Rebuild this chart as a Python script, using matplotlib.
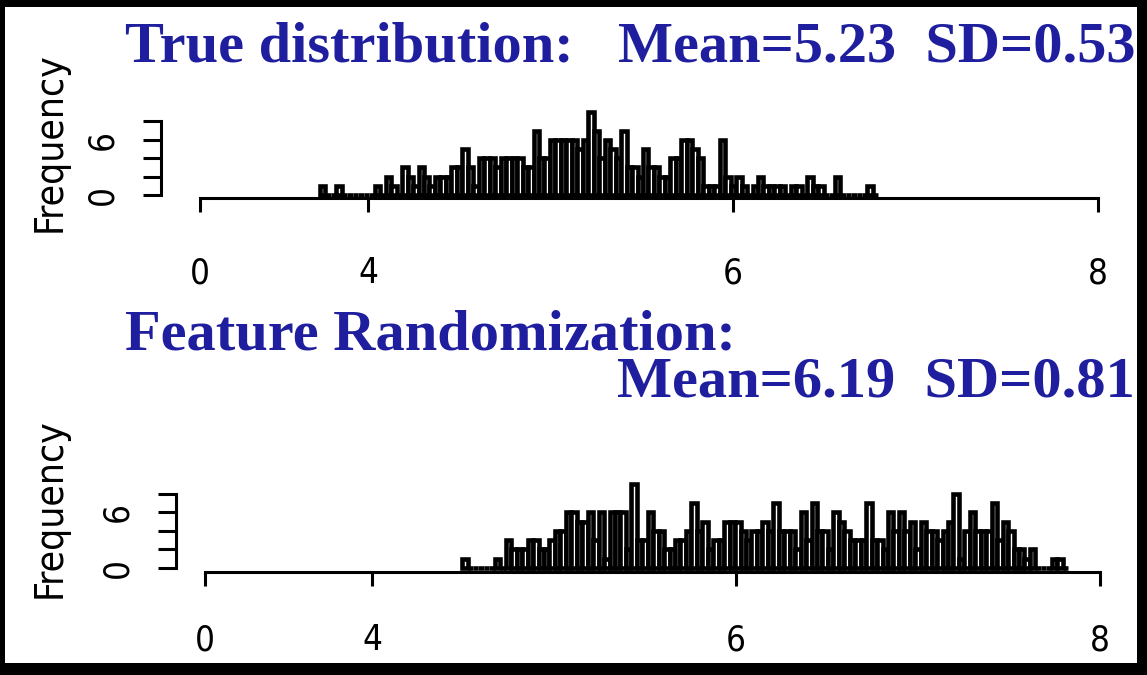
import numpy as np
import matplotlib.pyplot as plt
from matplotlib.patches import Rectangle

W, H = 1147, 675

# bin counts (bin width 0.03)
true_counts = [1, 0, 0, 1, 0, 0, 0, 0, 0, 0, 1, 0, 2, 1, 0, 3, 2, 1, 3, 2,
               1, 2, 2, 2, 3, 3, 5, 3, 1, 4, 4, 4, 3, 4, 4, 4, 4, 3, 3, 7,
               4, 4, 6, 6, 6, 6, 6, 5, 6, 9, 7, 4, 6, 5, 4, 7, 3, 3, 2, 5,
               3, 3, 2, 2, 4, 4, 6, 6, 5, 4, 1, 1, 1, 6, 2, 1, 2, 1, 0, 1,
               2, 1, 1, 1, 1, 0, 1, 1, 0, 2, 1, 1, 0, 0, 2, 0, 0, 0, 0, 0,
               1, 0]
rand_counts = [1, 0, 0, 0, 0, 0, 1, 0, 3, 2, 2, 2, 3, 3, 2, 2, 3, 4, 4, 6,
               6, 5, 5, 6, 3, 6, 1, 6, 6, 6, 2, 9, 3, 3, 6, 4, 4, 2, 2, 3,
               3, 4, 7, 4, 5, 2, 3, 3, 5, 5, 5, 4, 3, 4, 4, 5, 4, 7, 4, 4,
               4, 2, 6, 3, 7, 4, 4, 2, 6, 5, 4, 3, 3, 3, 7, 3, 3, 2, 6, 4,
               6, 4, 5, 2, 5, 4, 4, 3, 4, 5, 8, 1, 4, 6, 4, 4, 4, 7, 3, 5,
               4, 2, 2, 1, 2, 0, 0, 0, 1, 1, 0]
true_start = 3.737
rand_start = 4.495
bin_width = 0.03

# the x axis is cut: the "0" tick sits just left of 4
true_xticks = [3.08, 4, 6, 8]
rand_xticks = [3.082, 4, 6, 8]
xtick_labels = ['0', '4', '6', '8']
yticks = [0, 2, 4, 6, 8]
ytick_labels = ['0', '', '', '6', '']

titles_top = ['True distribution:', 'Mean=5.23  SD=0.53']
titles_bottom = ['Feature Randomization:', 'Mean=6.19  SD=0.81']

blue = '#1e1e9e'
lab_font = dict(family='DejaVu Sans', stretch='condensed', size=25)

fig = plt.figure(figsize=(W / 100, H / 100), dpi=100, facecolor='black')
# white page inside the black frame, kept below the axes
fig.patches.append(Rectangle((5 / W, 1 - 663 / H), 1132 / W, 656 / H,
                             transform=fig.transFigure, facecolor='white',
                             edgecolor='none', zorder=-5))


def px_rect(left, top, right, bottom):
    return [left / W, 1 - bottom / H, (right - left) / W, (bottom - top) / H]


def panel(rect, counts, start, xlim, ylim, xticks, spine_y, y_out, xpad, ypad):
    ax = fig.add_axes(px_rect(*rect))
    ax.set_facecolor('none')
    edges = start + bin_width * np.arange(len(counts))
    ax.bar(edges, counts, width=bin_width, align='edge', color='white',
           edgecolor='black', linewidth=3.3)
    ax.set_xlim(*xlim)
    ax.set_ylim(*ylim)
    for s in ['top', 'right']:
        ax.spines[s].set_visible(False)
    ax.spines['bottom'].set_position(('data', spine_y))
    ax.spines['bottom'].set_bounds(xticks[0], xticks[-1])
    ax.spines['left'].set_position(('outward', y_out))
    ax.spines['left'].set_bounds(0, 8)
    for s in ['bottom', 'left']:
        ax.spines[s].set_linewidth(2.2)
    ax.set_xticks(xticks)
    ax.set_xticklabels(xtick_labels, fontdict=lab_font)
    ax.set_yticks(yticks)
    ax.set_yticklabels(ytick_labels, fontdict=lab_font, rotation=90, va='center')
    ax.tick_params(axis='x', length=10, width=2.2, pad=xpad)
    ax.tick_params(axis='y', length=13, width=2.2, pad=ypad)
    return ax


panel((190, 100, 1110, 230), true_counts, true_start,
      (3.0247, 8.0658), ((195 - 230) / 9.2, (195 - 100) / 9.2),
      true_xticks, -0.3, 21, 32, 17)
panel((190, 470, 1110, 610), rand_counts, rand_start,
      (3.0, 8.055), ((568 - 610) / 9.3, (568 - 470) / 9.3),
      rand_xticks, -0.43, 10, 27, 17)

title_font = dict(family='Liberation Serif', weight='bold', size=42, color=blue)
fig.text(125 / W, 1 - 47 / H, titles_top[0], ha='left', va='center', **title_font)
fig.text(1135 / W, 1 - 47 / H, titles_top[1], ha='right', va='center', **title_font)
fig.text(125 / W, 1 - 336 / H, titles_bottom[0], ha='left', va='center', **title_font)
fig.text(1135 / W, 1 - 383 / H, titles_bottom[1], ha='right', va='center', **title_font)

fig.text(50 / W, 1 - 142 / H, 'Frequency', rotation=90, ha='center', va='center',
         family='DejaVu Sans', stretch='condensed', size=28)
fig.text(50 / W, 1 - 508 / H, 'Frequency', rotation=90, ha='center', va='center',
         family='DejaVu Sans', stretch='condensed', size=28)

fig.savefig('out.png', dpi=100, facecolor='black')
